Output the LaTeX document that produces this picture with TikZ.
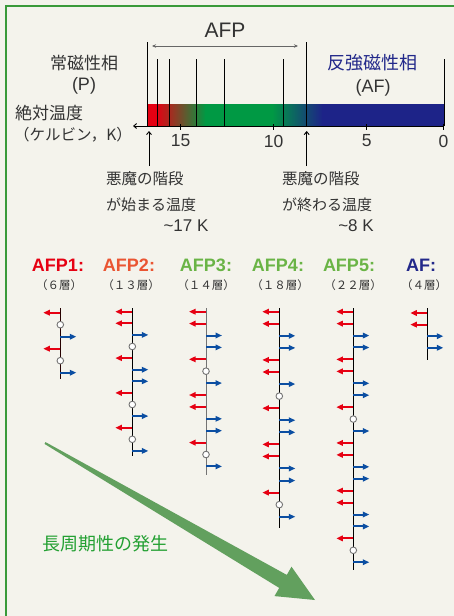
\documentclass[tikz,border=0pt]{standalone}
\usepackage{fontspec}
\setmainfont{Liberation Sans}
\newfontfamily\jp{Noto Sans CJK JP}
\usetikzlibrary{arrows.meta}
\definecolor{bg}{HTML}{F4F3EC}
\definecolor{framegreen}{HTML}{3A9A3A}
\definecolor{txt}{HTML}{333333}
\definecolor{spinred}{HTML}{E60012}
\definecolor{spinblue}{HTML}{0B4EA2}
\definecolor{afred}{HTML}{E60012}
\definecolor{aforange}{HTML}{EA5532}
\definecolor{afgreen}{HTML}{6AB446}
\definecolor{afblue}{HTML}{22288A}
\definecolor{barred}{HTML}{E60012}
\definecolor{bargreen}{HTML}{009944}
\definecolor{barblue}{HTML}{1D2388}
\definecolor{bigarrow}{HTML}{62A05E}
\definecolor{longgreen}{HTML}{23A032}
\tikzset{
  lbl/.style={inner sep=0pt, text=txt},
  jptext/.style={lbl, font=\jp\fontsize{#1}{#1}\selectfont},
  latext/.style={lbl, font=\fontsize{#1}{#1}\selectfont},
  head/.style={inner sep=0pt, font=\bfseries\fontsize{18}{18}\selectfont},
  sub/.style={lbl, font=\jp\fontsize{11.5}{12}\selectfont},
  spinaxis/.style={line width=1pt},
  redspin/.style={draw=spinred, line width=2pt, -{Triangle[length=6.5pt,width=5.5pt]}},
  bluespin/.style={draw=spinblue, line width=2pt, -{Triangle[length=6.5pt,width=5.5pt]}},
  spinnode/.style={draw=black!55, fill=white, line width=0.9pt},
  tline/.style={line width=0.9pt, black},
}
\newcommand\spincol[6]{%
  \draw[spinaxis, draw=#6] (#1,308) -- (#1,#4);
  \foreach \t [count=\i from 0] in {#5} {
    \pgfmathsetmacro\yy{#2+\i*#3}
    \if\t R\draw[redspin] (#1,\yy) -- ++(-17,0);\fi
    \if\t B\draw[bluespin] (#1,\yy) -- ++(16,0);\fi
    \if\t O\draw[spinnode] (#1,\yy) circle[radius=3.3];\fi
  }
}
\begin{document}
\begin{tikzpicture}[x=1pt,y=-1pt]
\useasboundingbox (0,0) rectangle (454,616);
\fill[bg] (0,0) rectangle (454,616);
\draw[framegreen, line width=2pt] (454,6) -- (6,6) -- (6,616);

% top labels
\node[latext=21] (afp) at (225,30) {AFP};
\coordinate (afpL) at (152,46);
\coordinate (afpR) at (298,46);
\draw[black!60, line width=0.8pt, {Stealth[length=4pt,width=3.5pt]}-{Stealth[length=4pt,width=3.5pt]}] (afpL) -- (afpR);
\node[jptext=17] (para) at (84,63) {常磁性相};
\node[latext=18] (P) at (84,86) {(P)};
\node[jptext=18, text=afblue] (anti) at (372,63) {反強磁性相};
\node[latext=18] (AFlab) at (373,88) {(AF)};
\node[jptext=17, anchor=west] (abs) at (15,113) {絶対温度};
\node[jptext=15.5, anchor=west] (kel) at (14,135) {（ケルビン，K）};

% temperature bar
\fill[barred] (147,104) rectangle (156.5,126);
\fill[left color=barred, right color=bargreen] (156,104) rectangle (205.5,126);
\fill[bargreen] (205,104) rectangle (272.5,126);
\fill[left color=bargreen, right color=barblue] (272,104) rectangle (322.5,126);
\fill[barblue] (322,104) rectangle (444,126);
\foreach \x in {147.3,306.3} \draw[tline] (\x,42) -- (\x,126);
\foreach \x in {157.3,169,196.7,224.5,283.3,444} \draw[tline] (\x,59) -- (\x,126);
\coordinate (axR) at (444,126);
\coordinate (axL) at (133,126);
\draw[line width=0.9pt, -{Straight Barb[length=3pt,width=5pt]}] (axR) -- (axL);
\foreach \x/\v in {180.7/15,273.7/10,366.7/5,443.5/0} {
  \draw[line width=1.1pt] (\x,124) -- (\x,129.5);
  \node[latext=17.5] at (\x,141) {\v};
}

% devil's staircase arrows and labels
\coordinate (up1a) at (149,166);
\coordinate (up1b) at (149,131);
\coordinate (up2a) at (306.7,166);
\coordinate (up2b) at (306.7,131);
\draw[line width=0.9pt, -{Straight Barb[length=3pt,width=5pt]}] (up1a) -- (up1b);
\draw[line width=0.9pt, -{Straight Barb[length=3pt,width=5pt]}] (up2a) -- (up2b);
\node[jptext=15.5, anchor=west] (dsa1) at (106,179) {悪魔の階段};
\node[jptext=15, anchor=west] (dsa2) at (106,205) {が始まる温度};
\node[latext=17] (dsa3) at (186,226) {\textasciitilde17 K};
\node[jptext=15.5, anchor=west] (dsb1) at (282,179) {悪魔の階段};
\node[jptext=15, anchor=west] (dsb2) at (282,205) {が終わる温度};
\node[latext=17] (dsb3) at (356,226) {\textasciitilde8 K};

% phase headers
\node[head, text=afred] (h1) at (58,265) {AFP1:};
\node[head, text=aforange] (h2) at (129,265) {AFP2:};
\node[head, text=afgreen] (h3) at (206,265) {AFP3:};
\node[head, text=afgreen] (h4) at (278,265) {AFP4:};
\node[head, text=afgreen] (h5) at (349,265) {AFP5:};
\node[head, text=afblue] (h6) at (421,265) {AF:};
\node[sub] (s1) at (59,285) {（６層）};
\node[sub] (s2) at (131,285) {（１３層）};
\node[sub] (s3) at (206,285) {（１４層）};
\node[sub] (s4) at (280,285) {（１８層）};
\node[sub] (s5) at (353,285) {（２２層）};
\node[sub] (s6) at (424,285) {（４層）};

% spin columns
\spincol{60.3}{312.7}{12}{379}{R,O,B,R,O,B}{black!85!red}
\spincol{132.3}{311.7}{11.6}{455.5}{R,R,B,O,R,B,B,R,O,B,R,O,B}{black}
\spincol{206}{311.7}{11.9}{475}{R,R,B,B,R,O,B,R,R,B,B,R,O,B}{black!55}
\spincol{279.3}{311.7}{12.06}{528}{R,R,B,B,R,R,B,O,R,B,B,R,R,B,B,R,O,B}{black}
\spincol{353.3}{311.7}{11.93}{569.5}{R,R,B,B,R,R,B,B,R,O,B,R,R,B,B,R,R,B,B,R,O,B}{black}
\spincol{427.3}{313}{11.6}{360}{R,R,B,B}{black}

% big arrow
\fill[bigarrow] (44.5,443.9) -- (279.2,587.9) -- (274.5,596.1) -- (315,600)
  -- (291.5,566.7) -- (286.8,574.9) -- (45.5,442.1) -- cycle;
\node[jptext=18, text=longgreen, anchor=west] (long) at (42,544) {長周期性の発生};
\end{tikzpicture}
\end{document}
